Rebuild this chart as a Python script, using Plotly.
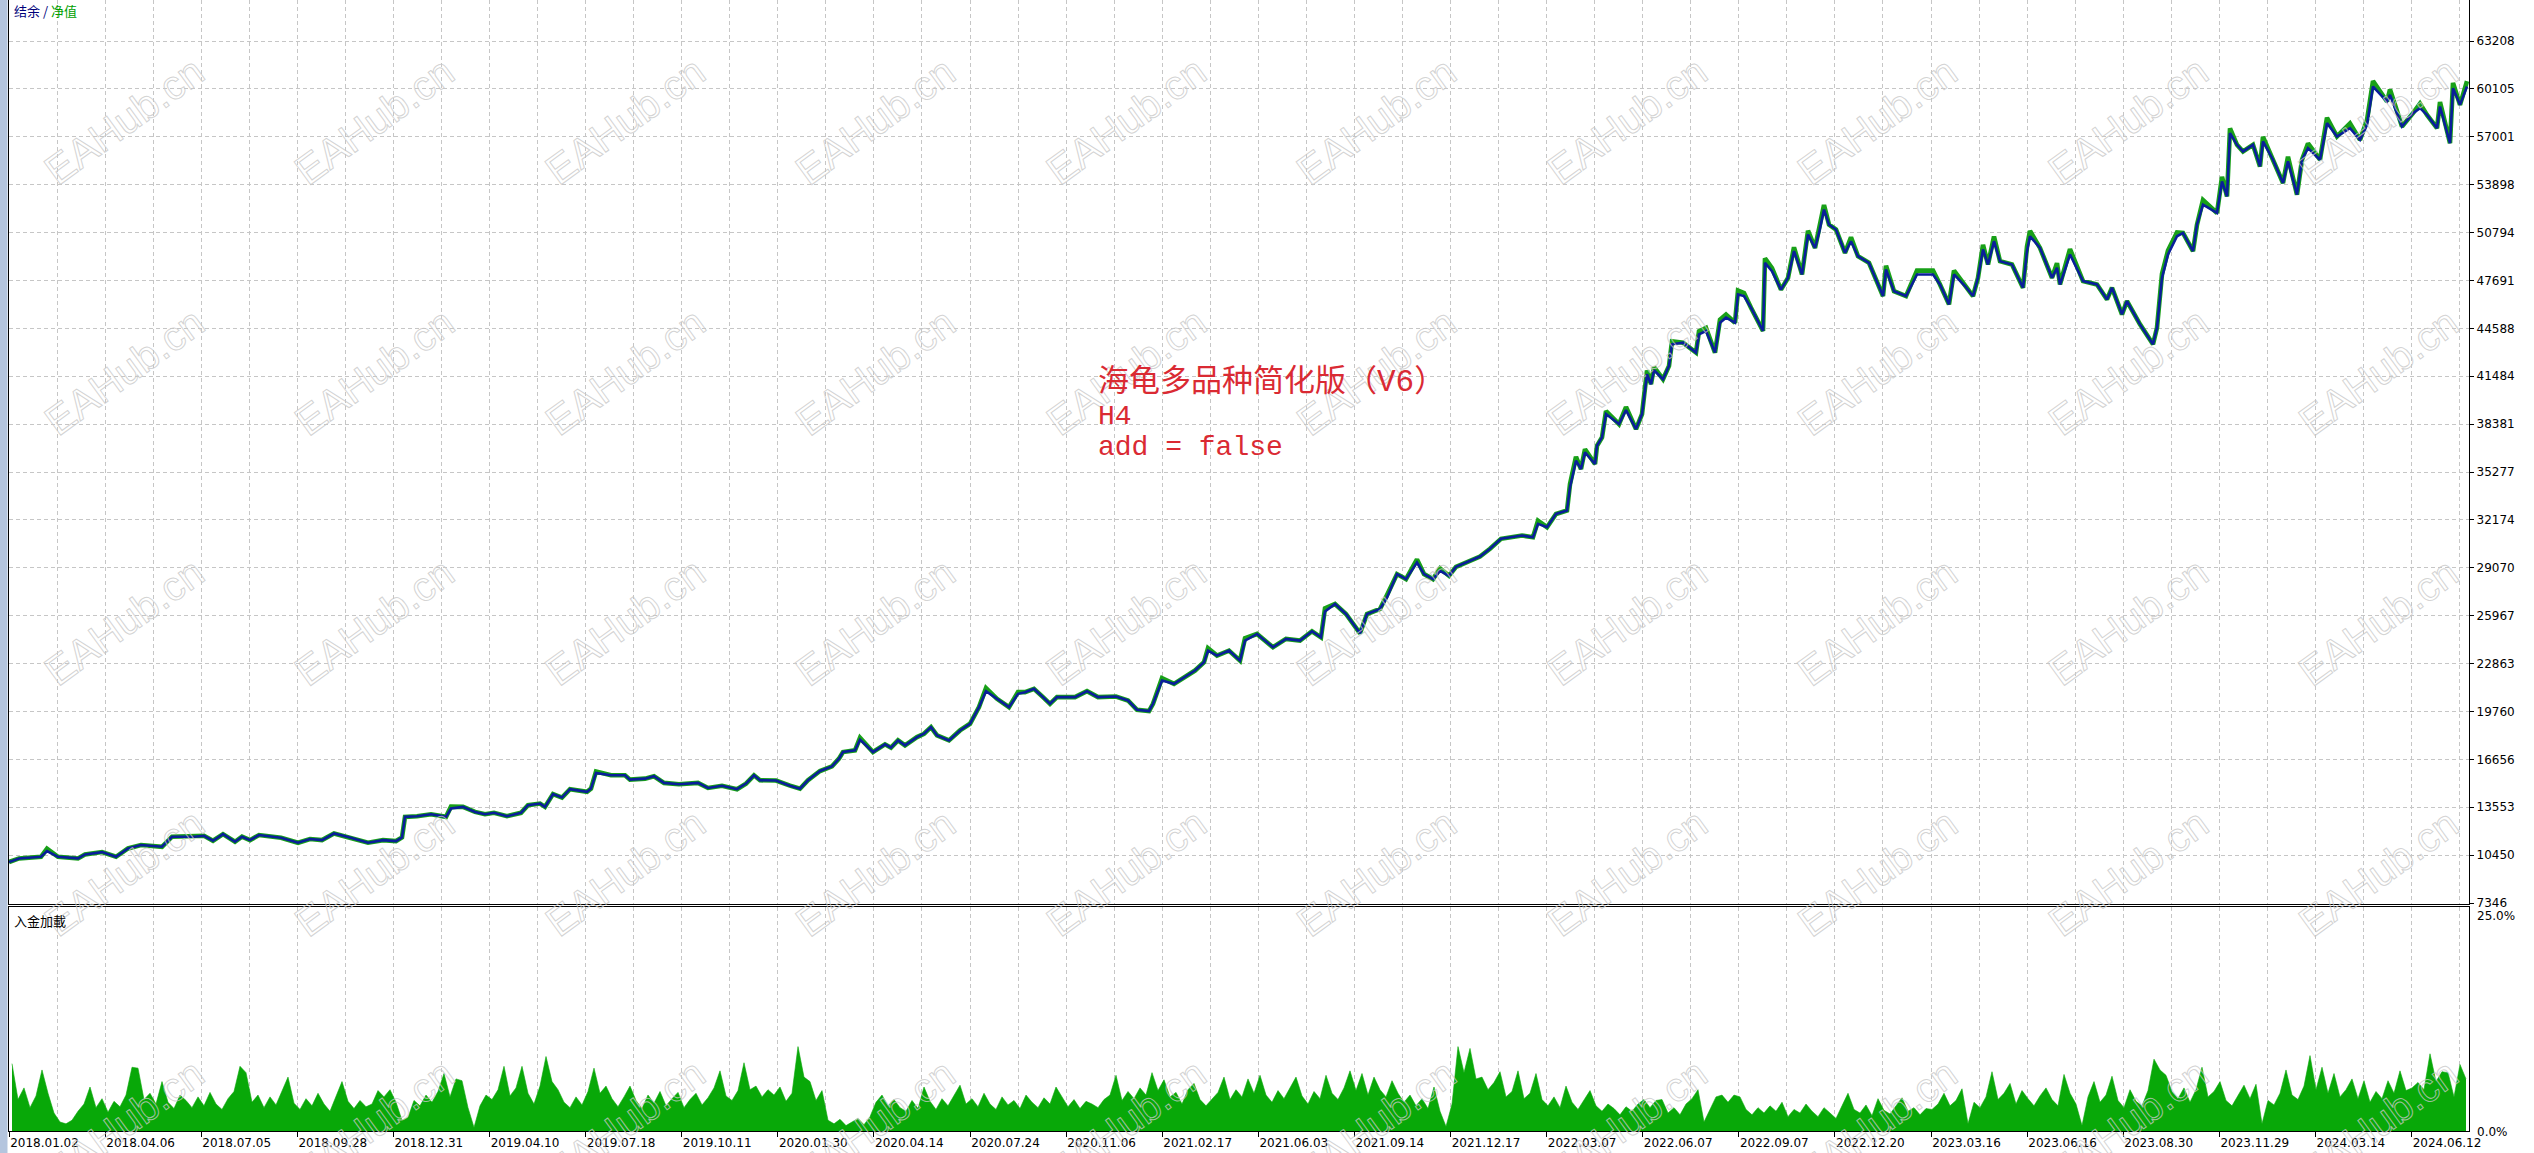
import plotly.graph_objects as go

# ---------------- data ----------------
date_labels = ["2018.01.02", "2018.04.06", "2018.07.05", "2018.09.28", "2018.12.31",
               "2019.04.10", "2019.07.18", "2019.10.11", "2020.01.30", "2020.04.14",
               "2020.07.24", "2020.11.06", "2021.02.17", "2021.06.03", "2021.09.14",
               "2021.12.17", "2022.03.07", "2022.06.07", "2022.09.07", "2022.12.20",
               "2023.03.16", "2023.06.16", "2023.08.30", "2023.11.29", "2024.03.14",
               "2024.06.12"]

y_ticks = [7346, 10450, 13553, 16656, 19760, 22863, 25967, 29070, 32174, 35277,
           38381, 41484, 44588, 47691, 50794, 53898, 57001, 60105, 63208]

# balance curve: bar index, value
bal_x = [0, 10, 32, 38, 49, 69, 76, 93, 107, 119, 132, 153, 163, 185, 195, 204, 214, 226, 233, 241,
         250, 272, 289, 301, 313, 325, 340, 359, 374, 387, 393, 396, 408, 422, 437, 442, 454, 466, 476, 485,
         498, 512, 519, 531, 536, 544, 553, 561, 578, 582, 587, 602, 616, 621, 636, 645, 655, 670, 689, 699,
         713, 728, 737, 745, 751, 767, 781, 791, 799, 811, 823, 830, 834, 846, 851, 864, 876, 882, 889, 896,
         908, 915, 922, 928, 940, 951, 961, 970, 977, 988, 1000, 1009, 1016, 1025, 1034, 1041, 1048, 1066, 1078, 1089,
         1107, 1119, 1128, 1140, 1144, 1153, 1165, 1176, 1186, 1195, 1199, 1208, 1220, 1231, 1236, 1248, 1264, 1277, 1291, 1303,
         1312, 1316, 1326, 1337, 1351, 1358, 1371, 1378, 1388, 1397, 1408, 1415, 1424, 1431, 1440, 1447, 1461, 1471, 1481, 1492,
         1513, 1524, 1529, 1538, 1547, 1558, 1561, 1567, 1572, 1576, 1586, 1588, 1593, 1597, 1610, 1617, 1627, 1633, 1638, 1642,
         1645, 1654, 1660, 1663, 1674, 1681, 1687, 1690, 1697, 1706, 1711, 1717, 1726, 1729, 1735, 1742, 1754, 1756, 1763, 1772,
         1779, 1785, 1793, 1799, 1806, 1810, 1815, 1820, 1827, 1836, 1842, 1849, 1860, 1874, 1877, 1885, 1897, 1908, 1924, 1931,
         1940, 1945, 1956, 1964, 1969, 1974, 1979, 1985, 1991, 2003, 2014, 2018, 2021, 2031, 2043, 2048, 2051, 2061, 2074, 2088,
         2098, 2103, 2113, 2118, 2131, 2144, 2148, 2153, 2159, 2168, 2174, 2184, 2188, 2194, 2208, 2213, 2218, 2221, 2228, 2234,
         2244, 2251, 2254, 2264, 2274, 2279, 2288, 2293, 2299, 2311, 2318, 2328, 2341, 2351, 2358, 2364, 2378, 2381, 2393, 2404,
         2411, 2418, 2428, 2431, 2441, 2444, 2451, 2458]
bal_y = [10000, 10235, 10340, 10710, 10340, 10235, 10490, 10645, 10340, 10880, 11100, 10990, 11640, 11640, 11700, 11380, 11810, 11315, 11640, 11420,
         11750, 11570, 11250, 11490, 11420, 11850, 11600, 11250, 11420, 11360, 11600, 12930, 12970, 13100, 12930, 13470, 13575, 13250, 13100, 13190,
         12970, 13190, 13690, 13790, 13575, 14400, 14180, 14720, 14550, 14760, 15770, 15620, 15620, 15340, 15405, 15560, 15130, 15040, 15130, 14800,
         14940, 14720, 15085, 15620, 15300, 15280, 14950, 14750, 15300, 15900, 16200, 16700, 17130, 17240, 17930, 17130, 17630, 17410, 17885, 17560,
         18100, 18315, 18745, 18210, 17885, 18530, 18960, 20040, 21075, 20580, 20040, 20900, 21010, 21225, 20690, 20255, 20690, 20690, 21075, 20690,
         20730, 20470, 19870, 19780, 20255, 21765, 21550, 21980, 22410, 22950, 23705, 23380, 23705, 23055, 24350, 24780, 23920, 24460, 24350, 24955,
         24565, 26245, 26720, 26075, 24825, 26075, 26400, 27150, 28660, 28335, 29415, 28660, 28335, 28875, 28550, 29130, 29500, 29800, 30300, 30946,
         31160, 31050, 31915, 31700, 32560, 32780, 34285, 36010, 35470, 36550, 35795, 36980, 37520, 39030, 38380, 39285, 38055, 39030, 41610, 40970,
         41870, 41290, 42150, 43550, 43660, 43340, 43015, 44200, 44415, 43015, 44950, 45280, 44950, 46785, 46680, 45925, 44415, 48830, 48290, 47100,
         47860, 49590, 48080, 50665, 49800, 50770, 52280, 51310, 50990, 49480, 50230, 49260, 48830, 46680, 48400, 46990, 46680, 48080, 48080, 47430,
         46140, 48080, 47330, 46680, 47860, 49695, 48725, 50234, 48940, 48725, 47215, 49590, 50555, 49800, 47860, 48510, 47430, 49370, 47650, 47430,
         46460, 47220, 45490, 46355, 44845, 43555, 44630, 47860, 49370, 50555, 50770, 49590, 51310, 52600, 52065, 54110, 53140, 57240, 56480, 56050,
         56480, 55080, 56700, 55515, 54005, 55405, 53250, 55515, 56270, 55515, 57885, 57020, 57560, 56800, 57780, 60255, 59285, 59715, 57670, 58530,
         58855, 58420, 57560, 58960, 56590, 60145, 59070, 60255]

# floating equity above balance where the green shows (bar index -> extra)
equity_gap = {38: 150, 442: 120, 587: 100, 851: 120, 977: 200, 1009: 120, 1153: 150, 1199: 150,
              1236: 150, 1316: 200, 1378: 150, 1408: 200, 1431: 150, 1529: 200,
              1561: 200, 1567: 250, 1576: 200, 1597: 200, 1617: 200, 1638: 250, 1645: 200, 1663: 200,
              1690: 200, 1697: 200, 1711: 200, 1717: 200, 1729: 250, 1735: 200, 1756: 300, 1763: 200,
              1785: 250, 1799: 250, 1810: 250, 1815: 300, 1842: 250, 1877: 250, 1908: 250, 1924: 250,
              1945: 250, 1974: 300, 1985: 300, 2018: 300, 2021: 350, 2048: 300, 2061: 350, 2153: 250,
              2159: 250, 2168: 250, 2194: 300, 2213: 300, 2221: 300, 2254: 300, 2279: 300, 2299: 300,
              2318: 350, 2341: 300, 2358: 300, 2364: 350, 2381: 350, 2411: 300, 2431: 300, 2444: 350,
              2458: 350}

# deposit load (%), one value every 6 bars
load_pct = [
    7.5, 3.5, 4.8, 2.6, 3.9, 6.8, 4.2, 2.0, 1.0, 0.8, 1.2, 2.2, 3.0, 4.9, 2.6, 3.6, 2.1, 3.3, 2.7, 4.0,
    7.1, 7.0, 3.5, 4.2, 3.0, 5.5, 3.2, 2.5, 4.0, 3.4, 2.6, 3.8, 2.8, 4.3, 3.0, 2.4, 3.6, 4.4, 7.2, 6.5,
    3.2, 4.0, 2.6, 3.8, 2.9, 4.5, 6.0, 3.1, 2.4, 3.6, 2.8, 4.2, 3.0, 2.2, 3.9, 5.5, 3.3, 2.5, 3.4, 2.7,
    3.0, 4.5, 3.8, 4.6, 3.2, 1.2, 1.5, 3.4, 2.8, 4.0, 3.2, 4.4, 6.4, 3.8, 5.8, 5.6, 2.6, 0.4, 2.8, 4.0,
    3.5, 4.6, 7.2, 3.9, 4.8, 7.2, 4.2, 3.0, 5.0, 8.3, 5.5, 4.6, 3.2, 2.6, 3.8, 2.9, 4.4, 7.0, 4.2, 5.0,
    3.6, 2.7, 3.8, 5.0, 3.4, 2.5, 4.0, 3.1, 4.4, 2.8, 3.6, 4.3, 2.6, 3.5, 4.2, 2.9, 3.7, 4.8, 6.7, 3.9,
    3.4, 4.5, 7.6, 4.6, 5.0, 3.8, 4.6, 4.0, 4.9, 3.3, 4.2, 9.4, 6.0, 5.5, 3.4, 4.5, 1.2, 0.8, 1.3, 0.6,
    1.0, 1.4, 0.7, 1.6, 3.2, 4.0, 2.8, 3.5, 2.6, 2.2, 3.4, 2.5, 4.9, 3.3, 2.4, 3.6, 2.8, 4.0, 5.1, 3.0,
    3.6, 2.7, 4.2, 3.0, 2.4, 3.8, 2.9, 3.4, 2.5, 4.0, 3.2, 2.6, 3.7, 3.0, 4.9, 3.8, 2.7, 3.5, 2.5, 3.3,
    3.0, 2.6, 3.5, 4.0, 6.2, 3.4, 4.4, 3.6, 4.8, 4.0, 6.5, 4.5, 5.7, 3.8, 4.3, 3.0, 4.6, 5.3, 3.5, 2.8,
    3.6, 4.3, 6.0, 3.5, 4.6, 3.8, 5.8, 4.2, 6.2, 4.0, 3.2, 4.5, 3.6, 4.8, 6.0, 3.9, 3.0, 4.4, 3.6, 6.2,
    4.2, 3.5, 4.8, 6.7, 4.5, 6.4, 4.0, 6.0, 4.6, 3.8, 5.6, 4.2, 3.2, 4.0, 2.8, 3.6, 2.5, 4.9, 2.2, 0.5,
    3.0, 9.4, 6.5, 9.2, 5.8, 6.0, 4.6, 5.4, 6.6, 3.8, 4.4, 6.7, 3.6, 4.2, 6.4, 3.5, 2.8, 3.8, 2.6, 5.0,
    3.2, 2.4, 3.4, 4.5, 2.8, 2.2, 3.0, 2.5, 1.8, 2.7, 2.2, 3.0, 3.5, 2.6, 3.4, 3.5, 2.0, 2.6, 1.8, 3.0,
    3.6, 4.6, 1.0, 2.5, 3.8, 4.0, 3.2, 4.0, 3.8, 2.4, 1.8, 2.6, 2.0, 2.8, 2.2, 3.2, 1.6, 2.4, 2.0, 3.0,
    2.2, 1.6, 2.6, 2.0, 1.4, 2.8, 4.2, 2.4, 2.0, 2.9, 1.7, 3.6, 2.3, 1.9, 2.8, 3.7, 2.2, 2.6, 1.8, 2.5,
    2.4, 3.0, 4.2, 2.8, 3.4, 4.7, 0.8, 3.2, 2.6, 3.8, 6.6, 3.5, 4.2, 5.3, 3.0, 4.5, 3.6, 2.8, 3.9, 4.8,
    3.5, 2.8, 6.3, 4.2, 3.0, 0.6, 3.8, 5.5, 3.2, 4.0, 6.1, 3.4, 2.6, 4.6, 3.3, 2.8, 4.5, 8.0, 6.8, 6.2,
    4.4, 3.6, 4.8, 3.2, 4.6, 7.1, 3.8, 4.4, 5.5, 3.4, 2.8, 4.0, 5.1, 3.6, 5.2, 0.8, 3.4, 2.9, 4.2, 6.8,
    4.0, 3.5, 5.0, 8.4, 4.6, 7.1, 4.2, 6.4, 3.8, 4.6, 5.8, 3.6, 5.6, 3.2, 4.4, 3.6, 5.6, 4.2, 6.7, 4.5,
    4.8, 5.4, 4.6, 8.6, 5.5, 6.6, 6.5, 3.8, 7.4, 5.8]
load_step = 6

# ---------------- layout geometry (px) ----------------
W, H = 2534, 1153
PL, PR = 9, 2469          # plot area left / right
PB = 1131                 # plot area bottom (lower axis line)
X_SPAN = PR - PL          # bar index range (1 bar per px)
LABEL_STEP = 96.1         # bars between labelled ticks
GRID_STEP = LABEL_STEP / 2


def px2x(px):
    return (px - PL) / X_SPAN


def py2y(py):
    return (PB - py) / PB


main_bottom_px, lower_top_px = 903.5, 906.5
per_px = (y_ticks[-1] - y_ticks[0]) / (903 - 41)
y_top = y_ticks[-1] + 41 * per_px
y_bot = y_ticks[0] - (main_bottom_px - 903) * per_px

equity_y = [v + equity_gap.get(x, 0) for x, v in zip(bal_x, bal_y)]
load_x = [load_step / 2 + load_step * i for i in range(len(load_pct))]

label_pos = [i * LABEL_STEP for i in range(len(date_labels))]
minor_pos = [(2 * i + 1) * GRID_STEP for i in range(len(date_labels))]

GRID = dict(showgrid=True, gridcolor="#C6C6C6", gridwidth=1, griddash="4px,3px")

fig = go.Figure()
fig.add_trace(go.Scatter(x=bal_x, y=equity_y, mode="lines", name="净值",
                         line=dict(color="#18A018", width=4.6), xaxis="x", yaxis="y",
                         hoverinfo="skip"))
fig.add_trace(go.Scatter(x=bal_x, y=bal_y, mode="lines", name="结余",
                         line=dict(color="#0A1E9A", width=2.6), xaxis="x", yaxis="y"))
fig.add_trace(go.Scatter(x=load_x, y=load_pct, name="入金加載", mode="lines",
                         fill="tozeroy", fillcolor="#08A808",
                         line=dict(color="#08A808", width=0.6, shape="linear"),
                         xaxis="x2", yaxis="y2"))

tickfont = dict(family="DejaVu Sans", size=12, color="#000000")

fig.update_layout(
    width=W, height=H, autosize=False,
    margin=dict(l=PL, r=W - PR, t=0, b=H - PB, pad=0),
    paper_bgcolor="white", plot_bgcolor="white",
    showlegend=False,
    xaxis=dict(domain=[0, 1], anchor="y", range=[0, X_SPAN], tickmode="array",
               tickvals=label_pos, showticklabels=False, ticks="", zeroline=False,
               showline=True, linecolor="#000000", linewidth=1.3, mirror=True,
               minor=dict(tickmode="array", tickvals=minor_pos, ticks="", **GRID), **GRID),
    xaxis2=dict(domain=[0, 1], anchor="y2", matches="x", range=[0, X_SPAN], tickmode="array",
                tickvals=label_pos, ticktext=date_labels, ticks="outside", ticklen=5,
                tickcolor="#000000", ticklabelposition="outside right", tickfont=tickfont,
                zeroline=False, showline=True, linecolor="#000000", linewidth=1.3, mirror=True,
                minor=dict(tickmode="array", tickvals=minor_pos, ticks="", **GRID), **GRID),
    yaxis=dict(domain=[py2y(main_bottom_px), 1], anchor="x", side="right",
               range=[y_bot, y_top], tickmode="array", tickvals=y_ticks,
               ticktext=[str(v) for v in y_ticks], ticks="outside", ticklen=4,
               tickcolor="#000000", tickfont=tickfont, zeroline=False,
               showline=True, linecolor="#000000", linewidth=1.3, mirror=True, **GRID),
    yaxis2=dict(domain=[0, py2y(lower_top_px)], anchor="x2", side="right", range=[0, 25],
                showticklabels=False, ticks="", showgrid=False, zeroline=False,
                showline=True, linecolor="#000000", linewidth=1.3, mirror=True),
)

# window border strip on the far left
fig.add_shape(type="rect", xref="paper", yref="paper", x0=px2x(0), x1=px2x(7.5),
              y0=py2y(H), y1=py2y(0), fillcolor="#B4C5DE", line=dict(width=0), layer="above")

ann = []
# watermark grid
for j in range(5):
    for i in range(10):
        ann.append(dict(xref="paper", yref="paper", x=px2x(124 + 250.5 * i), y=py2y(121 + 250.5 * j),
                        xanchor="center", yanchor="middle",
                        text="<span style='color:rgba(255,255,255,0);stroke:rgba(200,200,200,0.8);stroke-width:1px'>EAHub.cn</span>",
                        showarrow=False, textangle=-36,
                        font=dict(family="Liberation Sans", size=41, color="rgba(255,255,255,0)")))

cjk = "Noto Sans CJK SC"
ann.append(dict(xref="paper", yref="paper", x=px2x(12), y=py2y(10), xanchor="left", yanchor="middle",
                showarrow=False, align="left",
                text="<span style='color:#00007A'>结余 / </span><span style='color:#00A000'>净值</span>",
                font=dict(family=cjk, size=13, color="#00007A")))
ann.append(dict(xref="paper", yref="paper", x=px2x(12), y=py2y(920), xanchor="left", yanchor="middle",
                showarrow=False, text="入金加載", font=dict(family=cjk, size=13, color="#000000")))
ann.append(dict(xref="paper", yref="paper", x=px2x(2475), y=py2y(916), xanchor="left", yanchor="middle",
                showarrow=False, text="25.0%", font=tickfont))
ann.append(dict(xref="paper", yref="paper", x=px2x(2475), y=py2y(1132), xanchor="left", yanchor="middle",
                showarrow=False, text="0.0%", font=tickfont))

red = "#DA2A33"
note_lines = ["海龟多品种简化版（V6）", "H4", "add = false"]
note_sizes = [31, 28, 28]
note_centers = [382, 416, 448]
for t, s, c in zip(note_lines, note_sizes, note_centers):
    ann.append(dict(xref="paper", yref="paper", x=px2x(1096), y=py2y(c), xanchor="left", yanchor="middle",
                    showarrow=False, text=t,
                    font=dict(family="Liberation Mono, " + cjk, size=s, color=red)))

fig.update_layout(annotations=ann)

fig.write_html("out.html", config={"displayModeBar": False},
               post_script="document.body.style.margin='0';document.body.style.overflow='hidden';")
